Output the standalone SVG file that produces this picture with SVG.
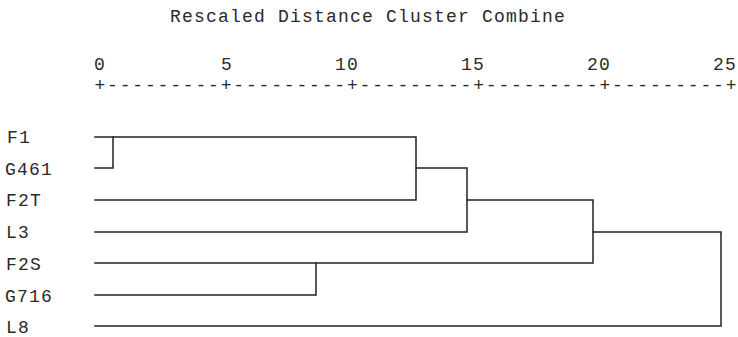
<svg xmlns="http://www.w3.org/2000/svg" width="738" height="337" viewBox="0 0 738 337">
<style>
text { font-family: "Liberation Mono", "DejaVu Sans Mono", monospace; fill: #2a2a2a; font-size: 18px; letter-spacing: 1.2px; }
.ln { stroke: #222; stroke-width: 1.5; fill: none; stroke-linecap: square; }
</style>
<rect width="738" height="337" fill="#ffffff"/>
<g id="header">
  <text x="170" y="22">Rescaled Distance Cluster Combine</text>
  <g id="axis-labels" text-anchor="middle" style="letter-spacing:0">
    <text x="100" y="70">0</text>
    <text x="227" y="70">5</text>
    <text x="347" y="70">10</text>
    <text x="473" y="70">15</text>
    <text x="599" y="70">20</text>
    <text x="725" y="70">25</text>
  </g>
  <text id="axis" x="94.5" y="91" textLength="642" lengthAdjust="spacing" style="letter-spacing:0">+---------+---------+---------+---------+---------+</text>
</g>
<g id="F1"><text x="7" y="143">F1</text></g>
<g id="G461"><text x="5" y="175">G461</text></g>
<g id="F2T"><text x="6" y="206">F2T</text></g>
<g id="L3"><text x="6" y="238">L3</text></g>
<g id="F2S"><text x="6" y="270">F2S</text></g>
<g id="G716"><text x="5" y="302">G716</text></g>
<g id="L8"><text x="6" y="333">L8</text></g>
<g id="connectors" class="ln">
  <path class="ln" d="M95 137 H416 V200 H95"/>
  <path class="ln" d="M95 168 H113 V137"/>
  <path class="ln" d="M416 168 H467 V232 H95"/>
  <path class="ln" d="M467 200 H593 V263 H95"/>
  <path class="ln" d="M95 295 H316 V263"/>
  <path class="ln" d="M593 232 H721 V326 H95"/>
</g>
</svg>
